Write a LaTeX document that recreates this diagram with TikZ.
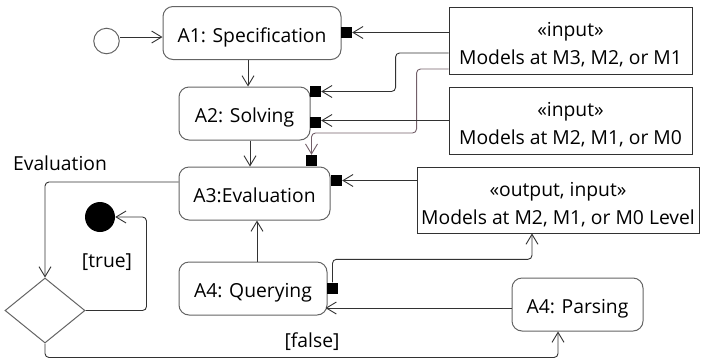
\documentclass[tikz,border=0pt]{standalone}
\usepackage{fontspec}
\setmainfont{Open Sans}
\usetikzlibrary{arrows.meta,shapes.geometric}
\definecolor{edgegray}{RGB}{50,50,50}
\definecolor{boxgray}{RGB}{100,100,100}
\definecolor{mauve}{RGB}{115,95,105}
\begin{document}
\begin{tikzpicture}[x=1pt,y=-1pt,
  txt/.style={font=\fontsize{19.3}{28}\selectfont, text=black},
  act/.style={txt, draw=boxgray, line width=1pt, rounded corners=10pt,
    fill=white, inner sep=0pt, minimum height=53pt,
    text height=20pt, text depth=2pt},
  obj/.style={draw=edgegray, line width=0.9pt, fill=white, inner sep=0pt},
  objtext/.style={txt, align=center, inner sep=0pt},
  pinbox/.style={fill=black, draw=none, minimum size=11pt, inner sep=0pt},
  flow/.style={draw=edgegray, line width=0.9pt, rounded corners=4pt,
    -{Straight Barb[length=10pt,width=12pt,line width=0.9pt]}},
]
\useasboundingbox (0,0) rectangle (706,360);

% actions
\node[act, minimum width=178pt] (a1) at (252,33) {A1: Specification};
\node[act, minimum width=131pt] (a2) at (244.5,113.5) {A2: Solving};
\node[act, minimum width=151pt] (a3) at (254.5,193.5) {A3:Evaluation};
\node[act, minimum width=148pt] (q)  at (253,288.5) {A4: Querying};
\node[act, minimum width=131pt] (parse) at (577.5,304.5) {A4: Parsing};

% object nodes (frame, then its two text lines set a little low)
\node[obj, minimum width=243pt, minimum height=67pt] (in1) at (570.5,40.5) {};
\node[objtext] (in1t) at ([yshift=-4pt]in1.center)
  {«input»\\Models at M3, M2, or M1};
\node[obj, minimum width=243pt, minimum height=67pt] (in2) at (570.5,120.5) {};
\node[objtext] (in2t) at ([yshift=-4pt]in2.center)
  {«input»\\Models at M2, M1, or M0};
\node[obj, minimum width=282pt, minimum height=66pt] (out) at (558,200) {};
\node[objtext] (outt) at ([yshift=-4.5pt]out.center)
  {«output, input»\\Models at M2, M1, or M0 Level};

% control nodes
\node[circle, draw=boxgray, line width=1pt, fill=white, minimum size=25.5pt,
  inner sep=0pt] (init) at (106.5,41) {};
\node[circle, fill=black, minimum size=30pt, inner sep=0pt] (final) at (100,217) {};
\node[diamond, draw=boxgray, line width=1pt, fill=white, minimum width=80pt,
  minimum height=65pt, inner sep=0pt] (dec) at (45,310.5) {};

% pins
\node[pinbox] (pA1)  at (346.5,32.5) {};
\node[pinbox] (pA2a) at (315.5,91.5) {};
\node[pinbox] (pA2b) at (315.5,122.5) {};
\node[pinbox] (pA3t) at (311.5,160.5) {};
\node[pinbox] (pA3r) at (336.5,180.5) {};
\node[pinbox] (pA4)  at (332.5,288) {};

% labels
\node[txt] (lEval)  at (60,163) {Evaluation};
\node[txt] (lTrue)  at (107,262) {[true]};
\node[txt] (lFalse) at (312,342) {[false]};

% control flow
\draw[flow] ([yshift=4pt]init.east) -- ([yshift=4pt]init.east -| a1.west);
\draw[flow] ([xshift=-4pt]a1.south) -- ([xshift=-4pt]a1.south |- a2.north);
\draw[flow] ([xshift=5.5pt]a2.south) -- ([xshift=5.5pt]a2.south |- a3.north);
\draw[flow] ([xshift=4pt]q.north) -- ([xshift=4pt]q.north |- a3.south);
\draw[flow] ([yshift=11.5pt]a3.west) -| (dec.north);
\draw[flow] (dec.east) -- ++(61,0) |- (final.east);
\draw[flow] (dec.south) -- ++(0,14) -| ([xshift=-19.5pt]parse.south);
\draw[flow] ([yshift=-3.5pt]parse.west) -- ([xshift=-2pt,yshift=-19.5pt]q.east);

% object flow
\draw[flow] (in1.west |- pA1.east) -- (pA1.east);
\draw[flow] ([yshift=-12.5pt]in1.west) -- ++(-53,0) |- (pA2a.east);
\draw[flow, draw=mauve] ([yshift=-28.5pt]in1.west) -- ++(-32,0) -- ++(0,64)
  -| (pA3t.north);
\draw[flow] (in2.west) -- (in2.west -| pA2b.east);
\draw[flow] (out.west |- pA3r.east) -- (pA3r.east);
\draw[flow] (pA4.north) -- ++(0,-23) -| ([xshift=-26pt]out.south);
\end{tikzpicture}
\end{document}
